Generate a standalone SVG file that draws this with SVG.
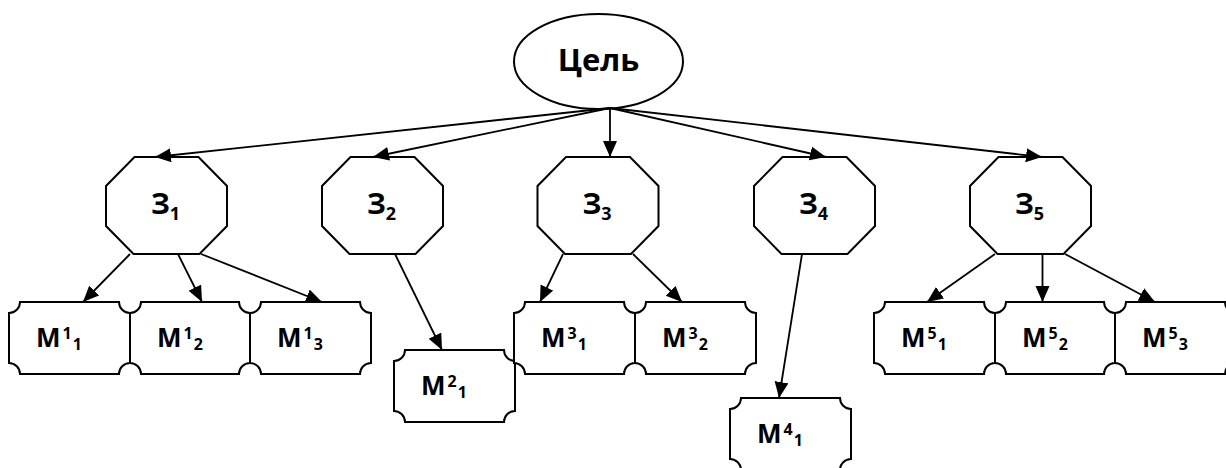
<svg xmlns="http://www.w3.org/2000/svg" width="1226" height="468" viewBox="0 0 1226 468">
  <defs>
    <marker id="arrow" markerUnits="userSpaceOnUse" markerWidth="17" markerHeight="15" refX="16" refY="7" orient="auto">
      <path d="M0,0 L16,7 L0,14 Z" fill="#000"/>
    </marker>
  </defs>
  <style>
    .shape { fill: #fff; stroke: #000; stroke-width: 2; stroke-linejoin: miter; }
    .link { fill: none; stroke: #000; stroke-width: 1.8; marker-end: url(#arrow); }
    .lbl { font-family: "Open Sans", "Liberation Sans", sans-serif; font-weight: bold; fill: #000; }
    .goal { font-size: 31px; }
    .task { font-size: 29px; }
    .task .sub { font-size: 18px; }
    .means { font-size: 26px; }
    .means .idx { font-size: 16px; }
  </style>

  <rect width="1226" height="468" fill="#fff"/>

  <!-- goal -->
  <g id="goal">
    <ellipse class="shape" cx="598.5" cy="61.5" rx="84.5" ry="47.5"/>
    <text class="lbl goal" x="598.5" y="71" text-anchor="middle">Цель</text>
  </g>

  <!-- tasks: octagons -->
  <g id="task1">
    <polygon class="shape" points="134.5,157 198.5,157 227,186 227,226 199.5,254 133.5,254 106,226 106,186"/>
    <text class="lbl task" x="151" y="214">З<tspan class="sub" dy="6">1</tspan></text>
  </g>
  <g id="task2">
    <polygon class="shape" points="350.5,157 414.5,157 443,186 443,226 415.5,254 349.5,254 322,226 322,186"/>
    <text class="lbl task" x="367" y="214">З<tspan class="sub" dy="6">2</tspan></text>
  </g>
  <g id="task3">
    <polygon class="shape" points="566,157 630,157 658.5,186 658.5,226 631,254 565,254 537.5,226 537.5,186"/>
    <text class="lbl task" x="582.5" y="214">З<tspan class="sub" dy="6">3</tspan></text>
  </g>
  <g id="task4">
    <polygon class="shape" points="782.5,157 846.5,157 875,186 875,226 847.5,254 781.5,254 754,226 754,186"/>
    <text class="lbl task" x="799" y="214">З<tspan class="sub" dy="6">4</tspan></text>
  </g>
  <g id="task5">
    <polygon class="shape" points="998.5,157 1062.5,157 1091,186 1091,226 1063.5,254 997.5,254 970,226 970,186"/>
    <text class="lbl task" x="1015" y="214">З<tspan class="sub" dy="6">5</tspan></text>
  </g>

  <!-- means: plates with concave quarter-circle corners -->
  <g id="m1-1">
    <path class="shape" d="M20,302 H119 A11,11 0 0 0 130,313 V363 A11,11 0 0 0 119,374 H20 A11,11 0 0 0 9,363 V313 A11,11 0 0 0 20,302 Z"/>
    <text class="lbl means" x="36" y="347">M<tspan class="idx" dx="2" dy="-8">1</tspan><tspan class="idx" dx="1" dy="11">1</tspan></text>
  </g>
  <g id="m1-2">
    <path class="shape" d="M141,302 H239 A11,11 0 0 0 250,313 V363 A11,11 0 0 0 239,374 H141 A11,11 0 0 0 130,363 V313 A11,11 0 0 0 141,302 Z"/>
    <text class="lbl means" x="157" y="347">M<tspan class="idx" dx="2" dy="-8">1</tspan><tspan class="idx" dx="1" dy="11">2</tspan></text>
  </g>
  <g id="m1-3">
    <path class="shape" d="M261,302 H360 A11,11 0 0 0 371,313 V363 A11,11 0 0 0 360,374 H261 A11,11 0 0 0 250,363 V313 A11,11 0 0 0 261,302 Z"/>
    <text class="lbl means" x="277" y="347">M<tspan class="idx" dx="2" dy="-8">1</tspan><tspan class="idx" dx="1" dy="11">3</tspan></text>
  </g>
  <g id="m2-1">
    <path class="shape" d="M405,350 H504 A11,11 0 0 0 515,361 V411 A11,11 0 0 0 504,422 H405 A11,11 0 0 0 394,411 V361 A11,11 0 0 0 405,350 Z"/>
    <text class="lbl means" x="421" y="395">M<tspan class="idx" dx="2" dy="-8">2</tspan><tspan class="idx" dx="1" dy="11">1</tspan></text>
  </g>
  <g id="m3-1">
    <path class="shape" d="M525,302 H624 A11,11 0 0 0 635,313 V363 A11,11 0 0 0 624,374 H525 A11,11 0 0 0 514,363 V313 A11,11 0 0 0 525,302 Z"/>
    <text class="lbl means" x="541" y="347">M<tspan class="idx" dx="2" dy="-8">3</tspan><tspan class="idx" dx="1" dy="11">1</tspan></text>
  </g>
  <g id="m3-2">
    <path class="shape" d="M646,302 H745 A11,11 0 0 0 756,313 V363 A11,11 0 0 0 745,374 H646 A11,11 0 0 0 635,363 V313 A11,11 0 0 0 646,302 Z"/>
    <text class="lbl means" x="662" y="347">M<tspan class="idx" dx="2" dy="-8">3</tspan><tspan class="idx" dx="1" dy="11">2</tspan></text>
  </g>
  <g id="m4-1">
    <path class="shape" d="M741,398 H840 A11,11 0 0 0 851,409 V459 A11,11 0 0 0 840,470 H741 A11,11 0 0 0 730,459 V409 A11,11 0 0 0 741,398 Z"/>
    <text class="lbl means" x="757" y="443">M<tspan class="idx" dx="2" dy="-8">4</tspan><tspan class="idx" dx="1" dy="11">1</tspan></text>
  </g>
  <g id="m5-1">
    <path class="shape" d="M885,302 H984 A11,11 0 0 0 995,313 V363 A11,11 0 0 0 984,374 H885 A11,11 0 0 0 874,363 V313 A11,11 0 0 0 885,302 Z"/>
    <text class="lbl means" x="901" y="347">M<tspan class="idx" dx="2" dy="-8">5</tspan><tspan class="idx" dx="1" dy="11">1</tspan></text>
  </g>
  <g id="m5-2">
    <path class="shape" d="M1006,302 H1104 A11,11 0 0 0 1115,313 V363 A11,11 0 0 0 1104,374 H1006 A11,11 0 0 0 995,363 V313 A11,11 0 0 0 1006,302 Z"/>
    <text class="lbl means" x="1022" y="347">M<tspan class="idx" dx="2" dy="-8">5</tspan><tspan class="idx" dx="1" dy="11">2</tspan></text>
  </g>
  <g id="m5-3">
    <path class="shape" d="M1126,302 H1225 A11,11 0 0 0 1236,313 V363 A11,11 0 0 0 1225,374 H1126 A11,11 0 0 0 1115,363 V313 A11,11 0 0 0 1126,302 Z"/>
    <text class="lbl means" x="1142" y="347">M<tspan class="idx" dx="2" dy="-8">5</tspan><tspan class="idx" dx="1" dy="11">3</tspan></text>
  </g>

  <!-- connectors -->
  <g id="connectors">
    <line class="link" x1="610" y1="108" x2="155" y2="157"/>
    <line class="link" x1="610" y1="108" x2="373" y2="157"/>
    <line class="link" x1="610" y1="108" x2="610" y2="157"/>
    <line class="link" x1="610" y1="108" x2="826" y2="157"/>
    <line class="link" x1="610" y1="108" x2="1042" y2="157"/>

    <line class="link" x1="130" y1="254" x2="83" y2="302"/>
    <line class="link" x1="178" y1="254" x2="202" y2="302"/>
    <line class="link" x1="201" y1="254" x2="322" y2="302"/>

    <line class="link" x1="395" y1="254" x2="442" y2="350"/>

    <line class="link" x1="563" y1="254" x2="540" y2="302"/>
    <line class="link" x1="633" y1="254" x2="682" y2="302"/>

    <line class="link" x1="802" y1="254" x2="779" y2="398"/>

    <line class="link" x1="995" y1="254" x2="927" y2="302"/>
    <line class="link" x1="1042.5" y1="254" x2="1042.5" y2="302"/>
    <line class="link" x1="1065" y1="254" x2="1155" y2="302"/>
  </g>
</svg>
